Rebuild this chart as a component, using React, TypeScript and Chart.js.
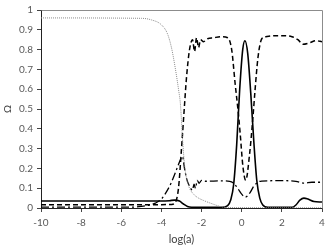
import React, { useEffect, useRef } from "react";
import { Chart, registerables } from "chart.js";

Chart.register(...registerables);

const xTicks = [-10, -8, -6, -4, -2, 0, 2, 4];
const yTicks = [0, 0.1, 0.2, 0.3, 0.4, 0.5, 0.6, 0.7, 0.8, 0.9, 1];

const dottedX = [-10, -5.0, -4.5, -4.0, -3.7, -3.5, -3.3, -3.15, -3.05, -2.95, -2.85, -2.75, -2.6, -2.4, -2.2, -1.9, -1.6, -1.3, -1.0, -0.5, 4];
const dottedY = [0.96, 0.958, 0.95, 0.925, 0.88, 0.81, 0.7, 0.6, 0.52, 0.35, 0.22, 0.15, 0.1, 0.07, 0.053, 0.038, 0.026, 0.015, 0.006, 0.002, 0.001];

const dashedX = [-10, -4.0, -3.5, -3.3, -3.15, -3.0, -2.85, -2.75, -2.6, -2.45, -2.35, -2.25, -2.15, -2.05, -1.9, -1.7, -1.4, -1.0, -0.7, -0.5, -0.33, -0.18, -0.08, 0.06, 0.2, 0.4, 0.56, 0.66, 0.81, 1.0, 1.2, 1.6, 2.0, 2.5, 2.8, 3.05, 3.4, 3.7, 4.0];
const dashedY = [0.017, 0.017, 0.018, 0.03, 0.1, 0.3, 0.52, 0.66, 0.8, 0.85, 0.79, 0.86, 0.81, 0.85, 0.84, 0.855, 0.86, 0.865, 0.86, 0.8, 0.63, 0.49, 0.38, 0.21, 0.14, 0.28, 0.46, 0.59, 0.76, 0.855, 0.865, 0.87, 0.87, 0.865, 0.85, 0.827, 0.835, 0.845, 0.84];

const solidX = [-10, -4.0, -3.6, -3.35, -3.1, -2.9, -2.7, -2.5, -1.0, -0.7, -0.55, -0.4, -0.25, -0.1, 0.05, 0.16, 0.3, 0.45, 0.6, 0.75, 0.9, 1.05, 1.3, 2.5, 2.7, 2.9, 3.1, 3.3, 3.6, 4.0];
const solidY = [0.035, 0.035, 0.037, 0.04, 0.035, 0.02, 0.008, 0.004, 0.003, 0.012, 0.04, 0.12, 0.32, 0.6, 0.8, 0.845, 0.78, 0.58, 0.34, 0.14, 0.05, 0.015, 0.003, 0.003, 0.015, 0.04, 0.05, 0.045, 0.033, 0.03];

const dashDotX = [-10, -5.5, -5.0, -4.6, -4.3, -4.0, -3.7, -3.5, -3.3, -3.15, -2.95, -2.85, -2.75, -2.6, -2.45, -2.38, -2.3, -2.22, -2.12, -2.0, -1.8, -1.0, -0.6, -0.4, -0.2, 0.0, 0.18, 0.4, 0.6, 0.8, 1.0, 2.0, 2.7, 3.1, 3.5, 4.0];
const dashDotY = [0.004, 0.004, 0.008, 0.015, 0.025, 0.045, 0.09, 0.13, 0.18, 0.22, 0.26, 0.2, 0.15, 0.11, 0.09, 0.12, 0.1, 0.14, 0.125, 0.14, 0.135, 0.137, 0.135, 0.125, 0.1, 0.07, 0.055, 0.075, 0.11, 0.13, 0.136, 0.138, 0.135, 0.126, 0.13, 0.13];

const toPts = (xs: number[], ys: number[]) => xs.map((x, i) => ({ x, y: ys[i] }));

const FONT = "Lato, 'Liberation Sans', sans-serif";

const frame = {
  id: "frame",
  afterDraw(chart: any) {
    const { ctx, chartArea } = chart;
    ctx.save();
    ctx.strokeStyle = "#8c8c8c";
    ctx.lineWidth = 1;
    ctx.beginPath();
    ctx.moveTo(Math.round(chartArea.left) + 0.5, Math.round(chartArea.top) + 0.5);
    ctx.lineTo(Math.round(chartArea.right) + 0.5, Math.round(chartArea.top) + 0.5);
    ctx.lineTo(Math.round(chartArea.right) + 0.5, Math.round(chartArea.bottom) + 0.5);
    ctx.stroke();
    ctx.restore();
  },
};

export default function App() {
  const ref = useRef<HTMLCanvasElement>(null);
  useEffect(() => {
    if (!ref.current) return;
    const common = { pointRadius: 0, fill: false, cubicInterpolationMode: "monotone" as const };
    const chart = new Chart(ref.current, {
      type: "line",
      data: {
        datasets: [
          { ...common, label: "dotted", data: toPts(dottedX, dottedY), borderColor: "#8a8a8a", borderWidth: 1, borderDash: [1, 1] },
          { ...common, label: "dashdot", data: toPts(dashDotX, dashDotY), borderColor: "#000", borderWidth: 1.3, borderDash: [8, 3, 2, 3] },
          { ...common, label: "dashed", data: toPts(dashedX, dashedY), borderColor: "#000", borderWidth: 1.5, borderDash: [5, 3] },
          { ...common, label: "solid", data: toPts(solidX, solidY), borderColor: "#000", borderWidth: 1.6 },
        ],
      },
      options: {
        animation: false,
        responsive: false,
        maintainAspectRatio: false,
        layout: { padding: { left: 2, top: 8, right: 10, bottom: 1 } },
        plugins: { legend: { display: false }, tooltip: { enabled: false } },
        scales: {
          x: {
            type: "linear",
            min: -10,
            max: 4,
            afterBuildTicks: (s: any) => { s.ticks = xTicks.map((v) => ({ value: v })); },
            afterFit: (s: any) => { s.height = 39; },
            ticks: { color: "#595959", font: { family: FONT, size: 10 }, padding: 5, maxRotation: 0, autoSkip: false },
            grid: { display: true, drawOnChartArea: false, drawTicks: true, tickLength: 4, color: "#444" },
            border: { display: true, color: "#222", width: 1 },
            title: { display: true, text: "log(a)", color: "#404040", font: { family: FONT, size: 11 }, padding: { top: 0, bottom: 1 } },
          },
          y: {
            type: "linear",
            min: 0,
            max: 1,
            afterBuildTicks: (s: any) => { s.ticks = yTicks.map((v) => ({ value: v })); },
            afterFit: (s: any) => { s.width = 39; },
            ticks: { color: "#595959", font: { family: FONT, size: 10 }, padding: 4, autoSkip: false, callback: (v: any) => String(Math.round(v * 10) / 10) },
            grid: { display: true, drawOnChartArea: false, drawTicks: true, tickLength: 4, color: "#444" },
            border: { display: true, color: "#222", width: 1 },
            title: { display: true, text: "Ω", color: "#404040", font: { family: FONT, size: 10 }, padding: { top: 0, bottom: 0 } },
          },
        },
      },
      plugins: [frame],
    });
    return () => chart.destroy();
  }, []);
  return (
    <div style={{ position: "fixed", left: 0, top: 0, width: 332, height: 248, background: "#fff" }}>
      <canvas ref={ref} width={332} height={248} style={{ width: 332, height: 248 }} />
    </div>
  );
}
